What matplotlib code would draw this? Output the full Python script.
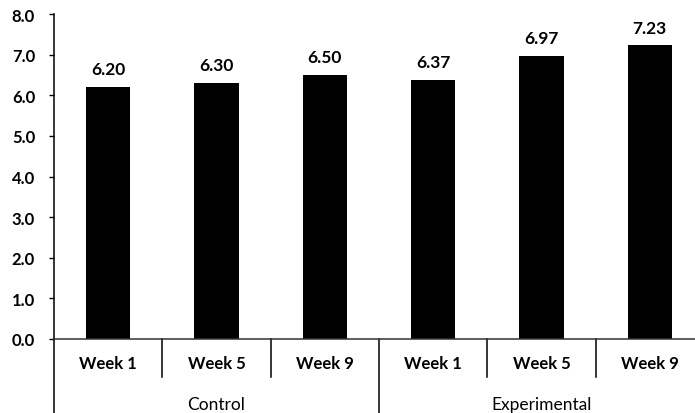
import matplotlib
matplotlib.use("Agg")
import matplotlib.pyplot as plt

plt.rcParams['font.family'] = ['Lato', 'DejaVu Sans']

weeks = ["Week 1", "Week 5", "Week 9", "Week 1", "Week 5", "Week 9"]
groups = ["Control", "Experimental"]
values = [6.20, 6.30, 6.50, 6.37, 6.97, 7.23]
yticks = [0, 1, 2, 3, 4, 5, 6, 7, 8]

fig = plt.figure(figsize=(6.95, 4.14), dpi=100)
ax = fig.add_axes([54 / 695, 1 - 340 / 414, 650 / 695, 325 / 414])

x = list(range(len(values)))
bars = ax.bar(x, values, width=0.41, color="black", zorder=2)
for xi, v in zip(x, values):
    ax.annotate(f"{v:.2f}", (xi, v), xytext=(0, 7), textcoords="offset points",
                ha="center", va="bottom", fontsize=12.5, fontweight="bold")

ax.set_xlim(-0.5, len(values) - 0.5)
ax.set_ylim(0, 8)
ax.set_yticks(yticks)
ax.set_yticklabels([f"{t:.1f}" for t in yticks], fontsize=12, fontweight="bold")
ax.tick_params(axis="y", length=3.6, width=1, pad=10)
ax.set_xticks([])

for s in ["top", "right"]:
    ax.spines[s].set_visible(False)
ax.spines["left"].set_linewidth(1.1)
ax.spines["bottom"].set_linewidth(1.1)
ax.spines["bottom"].set_color("#333333")

trans = ax.get_xaxis_transform()
# category separators below the axis
for i in range(len(values) + 1):
    xs = i - 0.5
    long_line = i % 3 == 0
    y_end = -0.235 if long_line else -0.117
    ax.plot([xs, xs], [0, y_end], color="black", lw=1.1, transform=trans, clip_on=False)

for xi, w in zip(x, weeks):
    ax.text(xi, -0.074, w, transform=trans, ha="center", va="center",
            fontsize=12, fontweight="bold")

for gi, g in enumerate(groups):
    ax.text(gi * 3 + 1, -0.2, g, transform=trans, ha="center", va="center",
            fontsize=12.5)

fig.savefig("out.png", dpi=100)
